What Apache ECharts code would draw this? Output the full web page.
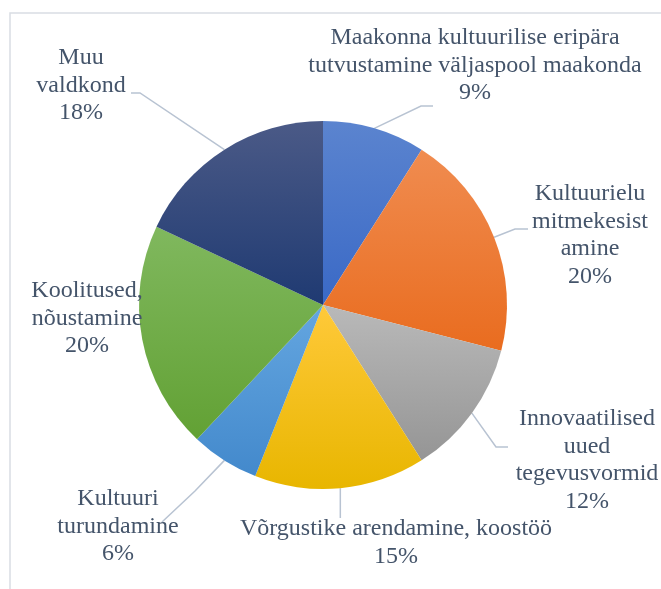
<!DOCTYPE html>
<html>
<head>
<meta charset="utf-8">
<script src="https://cdn.jsdelivr.net/npm/echarts@6/dist/echarts.min.js"></script>
<style>
  html, body { margin: 0; padding: 0; background: #fff; }
  #main { width: 661px; height: 589px; }
</style>
</head>
<body>
<div id="main"></div>
<script>
// andmed
var names = [
    'Maakonna kultuurilise eripära\ntutvustamine väljaspool maakonda',
    'Kultuurielu\nmitmekesist\namine',
    'Innovaatilised\nuued\ntegevusvormid',
    'Võrgustike arendamine, koostöö',
    'Kultuuri\nturundamine',
    'Koolitused,\nnõustamine',
    'Muu\nvaldkond'
];
var values = [9, 20, 12, 15, 6, 20, 18];

// värvid (ülemine, alumine)
var colorTop = ['#5b84cf', '#f08c50', '#b9b9b9', '#ffc93a', '#64a6e0', '#80b85e', '#4b5a87'];
var colorBottom = ['#3a69c6', '#e96c1f', '#959595', '#e8b600', '#4389cc', '#62a134', '#1f3a72'];

// siltide asukohad: [keskpunkt x, esimese rea ülemine y]
var labelAt = [[475, 24], [590, 180], [587, 405], [396, 515], [118, 485], [87, 277], [81, 44]];
// juhtjoone murdepunkt ja ots
var leader = [
    [[421, 106], [433, 106]],
    [[515, 229], [528, 229]],
    [[496, 447], [508, 447]],
    null,
    [[195, 491], [162, 522]],
    null,
    [[140, 93], [131, 93]]
];

var myChart = echarts.init(document.getElementById('main'));

var data = [];
for (var i = 0; i < values.length; i++) {
    data.push({
        name: names[i],
        value: values[i],
        labelLine: {show: i !== 5},
        itemStyle: {
            color: new echarts.graphic.LinearGradient(0, 0, 0, 1, [
                {offset: 0, color: colorTop[i]},
                {offset: 1, color: colorBottom[i]}
            ])
        }
    });
}

var option = {
    backgroundColor: '#fff',
    animation: false,
    graphic: [{
        type: 'rect',
        shape: {x: 10, y: 13, width: 700, height: 700},
        style: {fill: 'none', stroke: '#d9dde3', lineWidth: 1.5},
        z: -1
    }],
    series: [{
        type: 'pie',
        center: [323, 305],
        radius: 184,
        startAngle: 90,
        clockwise: true,
        avoidLabelOverlap: false,
        data: data,
        label: {
            show: true,
            position: 'outside',
            alignTo: 'none',
            overflow: 'none',
            width: 400,
            color: '#44546a',
            fontFamily: "'Liberation Serif', 'Times New Roman', serif",
            fontSize: 24,
            lineHeight: 27.5,
            align: 'center',
            formatter: function (p) {
                return p.name + '\n' + Math.round(p.percent) + '%';
            }
        },
        labelLine: {
            show: true,
            smooth: false,
            lineStyle: {color: '#b8c3d2', width: 1.5}
        },
        labelLayout: function (params) {
            var i = params.dataIndex;
            var res = {
                x: labelAt[i][0],
                y: labelAt[i][1],
                align: 'center',
                verticalAlign: 'top'
            };
            var pts = params.labelLinePoints;
            if (pts && pts.length) {
                var p0 = pts[0];
                if (leader[i]) {
                    res.labelLinePoints = [p0, leader[i][0], leader[i][1]];
                } else if (i === 3) {
                    res.labelLinePoints = [p0, [p0[0], p0[1] + 15], [p0[0], 518]];
                }
            }
            return res;
        }
    }]
};

myChart.setOption(option);
window.addEventListener('resize', function () {
    myChart.resize();
});
</script>
</body>
</html>
